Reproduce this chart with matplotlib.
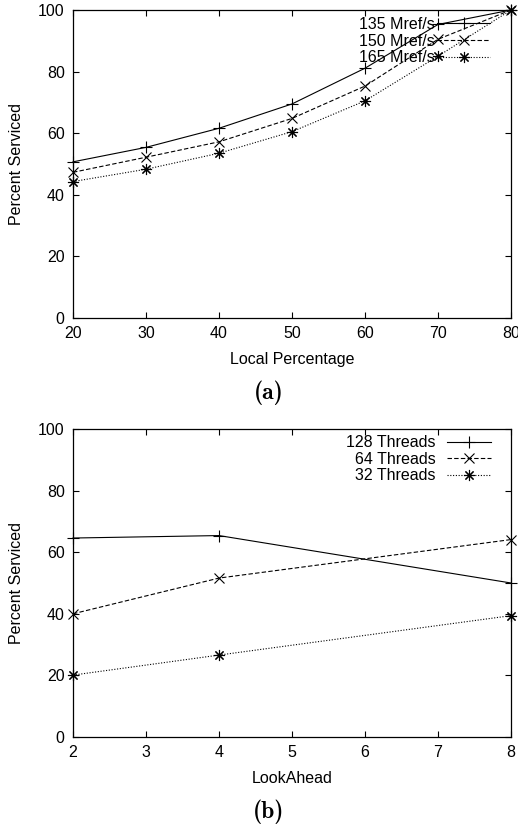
import matplotlib
matplotlib.use("Agg")
import matplotlib.pyplot as plt

plt.rcParams['font.family'] = ['Liberation Sans', 'DejaVu Sans']
plt.rcParams['font.size'] = 11.5

# panel (a)
local_pct = [20, 30, 40, 50, 60, 70, 80]
mref135 = [50.7, 55.4, 61.6, 69.5, 81.1, 95.3, 100]
mref150 = [47.3, 52.2, 57.2, 64.8, 75.3, 90.5, 100]
mref165 = [44.3, 48.3, 53.5, 60.5, 70.5, 85.0, 100]
labels_a = ['135 Mref/s', '150 Mref/s', '165 Mref/s']

# panel (b)
lookahead = [2, 4, 8]
thr128 = [64.6, 65.4, 50.0]
thr64 = [40.0, 51.6, 64.1]
thr32 = [20.1, 26.6, 39.4]
labels_b = ['128 Threads', '64 Threads', '32 Threads']

styles = [
    dict(ls='-', marker='+', ms=8),
    dict(ls=(0, (4, 2)), marker='x', ms=6.5),
    dict(ls=(0, (1, 1.5)), marker=(8, 2, 0), ms=8),
]

fig = plt.figure(figsize=(5.18, 8.26), dpi=100)
ax1 = fig.add_axes([73/518, 1-318/826, 438/518, 308/826])
ax2 = fig.add_axes([73/518, 1-737/826, 438/518, 308/826])


def style_axes(ax):
    ax.set_ylim(0, 100)
    ax.set_yticks([0, 20, 40, 60, 80, 100])
    ax.tick_params(direction='in', length=4, width=0.8, top=True, right=True, pad=6)
    for s in ax.spines.values():
        s.set_linewidth(0.9)


for ys, lab, st in zip([mref135, mref150, mref165], labels_a, styles):
    ax1.plot(local_pct, ys, color='black', lw=0.8, mew=0.8, clip_on=False, label=lab, **st)
ax1.set_xlim(20, 80)
ax1.set_xticks(local_pct)
style_axes(ax1)
ax1.set_xlabel('Local Percentage', labelpad=8)
ax1.set_ylabel('Percent Serviced', labelpad=10)
ax1.legend(loc='upper right', bbox_to_anchor=(0.952, 0.977), frameon=False, markerfirst=False,
           numpoints=1, handlelength=3.3, handletextpad=0.15, labelspacing=0.1,
           borderpad=0, borderaxespad=0)

for ys, lab, st in zip([thr128, thr64, thr32], labels_b, styles):
    ax2.plot(lookahead, ys, color='black', lw=0.8, mew=0.8, clip_on=False, label=lab, **st)
ax2.set_xlim(2, 8)
ax2.set_xticks(range(2, 9))
style_axes(ax2)
ax2.set_xlabel('LookAhead', labelpad=8)
ax2.set_ylabel('Percent Serviced', labelpad=10)
ax2.legend(loc='upper right', bbox_to_anchor=(0.954, 0.98), frameon=False, markerfirst=False,
           numpoints=1, handlelength=2.75, handletextpad=0.7, labelspacing=0.1,
           borderpad=0, borderaxespad=0)

fig.text(269/518, 1-393/826, '(a)', family='cmb10', fontsize=17, ha='center', va='center')
fig.text(269/518, 1-812/826, '(b)', family='cmb10', fontsize=17, ha='center', va='center')

fig.savefig('out.png', dpi=100)
